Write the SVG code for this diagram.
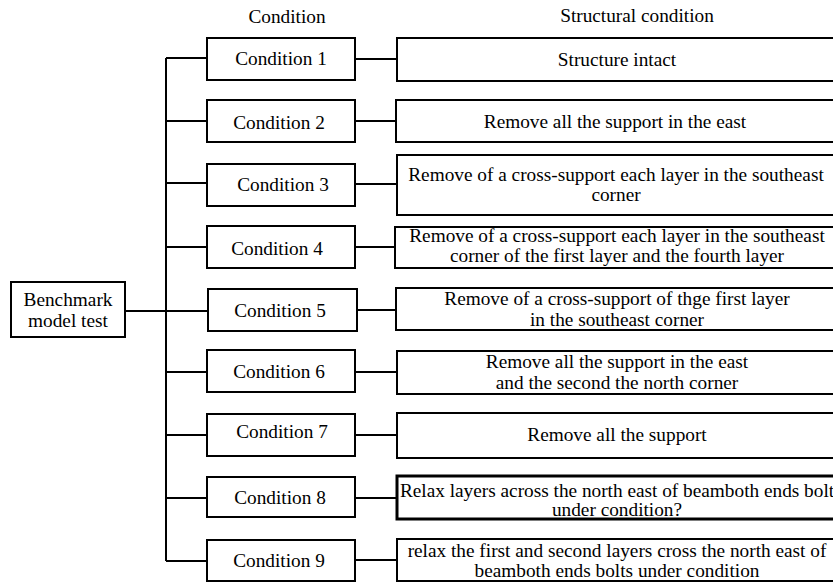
<svg xmlns="http://www.w3.org/2000/svg" width="833" height="582" viewBox="0 0 833 582" font-family="'Liberation Serif', Tinos, 'Times New Roman', 'Nimbus Roman', 'DejaVu Serif', serif" font-size="19.3">
<style>
text{font-family:'Liberation Serif',Tinos,'Times New Roman','Nimbus Roman','DejaVu Serif',serif;font-size:19.3px;fill:#000;text-anchor:middle}
rect{fill:#fff;stroke:#000;stroke-width:2}
.c line{stroke:#000;stroke-width:2;fill:none}
</style>
<rect x="0" y="0" width="833" height="582" style="stroke:none"/>
<g id="headers">
<text x="287" y="23">Condition</text>
<text x="637" y="22">Structural condition</text>
</g>
<g class="c" id="connectors">
<line x1="166" y1="58" x2="166" y2="561"/>
<line x1="125" y1="311" x2="208" y2="311"/>
<line x1="166" y1="58" x2="207" y2="58"/>
<line x1="166" y1="121" x2="207" y2="121"/>
<line x1="166" y1="183" x2="207" y2="183"/>
<line x1="166" y1="247" x2="207" y2="247"/>
<line x1="166" y1="372" x2="207" y2="372"/>
<line x1="166" y1="435" x2="207" y2="435"/>
<line x1="166" y1="498" x2="207" y2="498"/>
<line x1="166" y1="561" x2="207" y2="561"/>
<line x1="355" y1="59" x2="397" y2="59"/>
<line x1="355" y1="121" x2="396" y2="121"/>
<line x1="355" y1="184" x2="397" y2="184"/>
<line x1="355" y1="247" x2="396" y2="247"/>
<line x1="357" y1="310" x2="396" y2="310"/>
<line x1="355" y1="372" x2="397" y2="372"/>
<line x1="355" y1="435" x2="397" y2="435"/>
<line x1="355" y1="498" x2="397" y2="498"/>
<line x1="355" y1="560" x2="397" y2="560"/>
</g>
<g id="benchmark">
<rect x="11" y="282" width="114" height="55"/>
<text x="68" y="306">Benchmark</text>
<text x="68" y="327">model test</text>
</g>
<g id="cond1"><rect x="207" y="38" width="148" height="42"/><text x="281" y="65">Condition 1</text></g>
<g id="cond2"><rect x="207" y="100" width="148" height="42"/><text x="279" y="129">Condition 2</text></g>
<g id="cond3"><rect x="207" y="164" width="148" height="42"/><text x="283" y="191">Condition 3</text></g>
<g id="cond4"><rect x="207" y="226" width="148" height="42"/><text x="277" y="255">Condition 4</text></g>
<g id="cond5"><rect x="208" y="289" width="149" height="42"/><text x="280" y="317">Condition 5</text></g>
<g id="cond6"><rect x="207" y="350" width="148" height="42"/><text x="279" y="378">Condition 6</text></g>
<g id="cond7"><rect x="207" y="414" width="148" height="42"/><text x="282" y="438">Condition 7</text></g>
<g id="cond8"><rect x="207" y="477" width="148" height="40"/><text x="280" y="504">Condition 8</text></g>
<g id="cond9"><rect x="207" y="540" width="148" height="41"/><text x="279" y="567">Condition 9</text></g>
<g id="struct1"><rect x="397" y="38" width="445" height="43"/><text x="617" y="66">Structure intact</text></g>
<g id="struct2"><rect x="396" y="100" width="446" height="42"/><text x="615" y="128">Remove all the support in the east</text></g>
<g id="struct3"><rect x="397" y="155" width="445" height="60"/><text x="616" y="181">Remove of a cross-support each layer in the southeast</text><text x="616" y="201">corner</text></g>
<g id="struct4"><rect x="395" y="227" width="447" height="41"/><text x="617" y="242">Remove of a cross-support each layer in the southeast</text><text x="617" y="262">corner of the first layer and the fourth layer</text></g>
<g id="struct5"><rect x="396" y="288" width="446" height="42"/><text x="617" y="305">Remove of a cross-support of thge first layer</text><text x="617" y="326">in the southeast corner</text></g>
<g id="struct6"><rect x="397" y="351" width="445" height="43"/><text x="617" y="368">Remove all the support in the east</text><text x="617" y="389">and the second the north corner</text></g>
<g id="struct7"><rect x="397" y="413" width="445" height="45"/><text x="617" y="441">Remove all the support</text></g>
<g id="struct8"><rect x="397" y="476" width="445" height="43" style="stroke-width:3"/><text x="617" y="497">Relax layers across the north east of beamboth ends bolt</text><text x="617" y="516">under condition?</text></g>
<g id="struct9"><rect x="397" y="539" width="445" height="42"/><text x="617" y="557">relax the first and second layers cross the north east of</text><text x="617" y="577">beamboth ends bolts under condition</text></g>
</svg>
